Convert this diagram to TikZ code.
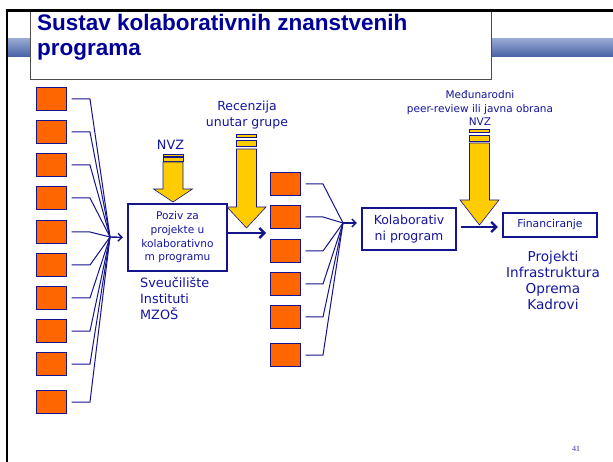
\documentclass[tikz,border=0pt]{standalone}
\usepackage{fontspec}
\setmainfont{DejaVu Sans}
\newfontfamily\titlefont{Liberation Sans}
\newfontfamily\pagefont{Liberation Serif}
\usetikzlibrary{arrows.meta}
\definecolor{titleblue}{RGB}{0,0,153}
\definecolor{txtblue}{RGB}{20,20,160}
\definecolor{lineblue}{RGB}{20,20,140}
\definecolor{boxorange}{RGB}{255,102,0}
\definecolor{arrowyellow}{RGB}{255,204,0}
\definecolor{barlight}{RGB}{150,168,210}
\definecolor{bardark}{RGB}{70,96,165}
\begin{document}
\begin{tikzpicture}[x=1pt, y=-1pt,
  obox/.style={draw=lineblue, fill=boxorange, line width=1pt, minimum width=30pt, minimum height=23pt, inner sep=0pt},
  tbox/.style={draw=lineblue, line width=2.2pt, fill=white, text=txtblue, align=center, inner sep=0pt},
  link/.style={draw=lineblue, line width=1pt, shorten <=5pt},
  conv/.style={draw=lineblue, line width=1.4pt, -{Straight Barb[length=4pt,width=8pt]}},
  flow/.style={draw=lineblue, line width=2.4pt, -{Straight Barb[length=5pt,width=10pt]}},
  lbl/.style={text=txtblue, align=center, inner sep=0pt},
  ttl/.style={anchor=base west, inner sep=0pt, text=titleblue, font=\titlefont\fontsize{22.5}{26}\bfseries\selectfont},
  yarrow/.style={draw=lineblue, line width=0.6pt, fill=arrowyellow}]
\useasboundingbox[fill=white] (0,0) rectangle (613,462);

% header
\shade[top color=barlight, bottom color=bardark] (7,39) rectangle (613,57);
\draw[gray!60!black, fill=white, line width=0.8pt] (30,10.5) rectangle (491,79);
\draw[line width=2.5pt] (7,462) -- (7,10.5) -- (613,10.5);
\node[ttl] (title1) at (37,31) {Sustav kolaborativnih znanstvenih};
\node[ttl] (title2) at (37,56) {programa};

% project boxes
\foreach \y [count=\i] in {99,132,165,198,232,265,298,331,364,402}
  \node[obox] (L\i) at (51,\y) {};
\foreach \y [count=\i] in {184,217,251,284,317,355}
  \node[obox] (M\i) at (285,\y) {};

% main boxes
\node[tbox, minimum width=99pt, minimum height=67pt, font=\fontsize{10.6}{13.7}\selectfont] (poziv) at (177.5,237.5) {Poziv za\\projekte u\\kolaborativno\\m programu};
\node[tbox, minimum width=94pt, minimum height=42pt, font=\fontsize{12.5}{15.5}\selectfont] (kolab) at (409,229) {Kolaborativ\\ni program};
\node[tbox, minimum width=94pt, minimum height=24pt, font=\fontsize{10.8}{13}\selectfont] (fin) at (550,225) {Financiranje};

% connectors
\coordinate (kL) at (90,0);
\coordinate (cL) at (110,237);
\coordinate (kM) at (323,0);
\coordinate (cM) at (343,223);
\coordinate (aM) at (266,233);
\foreach \i in {1,...,10}
  \draw[link] (L\i.east) -- (L\i.east -| kL) -- (cL);
\foreach \i in {1,...,6}
  \draw[link] (M\i.east) -- (M\i.east -| kM) -- (cM);
\draw[conv, shorten >=4pt] (cL) -- (poziv.west);
\draw[conv, shorten >=4pt] (cM) -- (kolab.west |- cM);
\draw[flow] ([yshift=4.5pt]poziv.east) -- (aM);
\draw[flow, shorten <=4pt, shorten >=4pt] ([yshift=2pt]kolab.east) -- ([yshift=-2pt]fin.west);

% yellow arrows
\foreach \cx/\sa/\sb/\sc/\hy/\py in {173/154/157.5/162/189/202, 246.5/134/140/149/207/228, 479.5/129/135/143/200/225} {
  \path[yarrow] (\cx-10,\sa) rectangle (\cx+10,{\sa+0.6*(\sb-\sa)});
  \path[yarrow] (\cx-10,\sb) rectangle (\cx+10,{\sb+0.75*(\sc-\sb)});
  \path[yarrow] (\cx-10,\sc) -- (\cx+10,\sc) -- (\cx+10,\hy) -- (\cx+19.5,\hy)
    -- (\cx,\py) -- (\cx-19.5,\hy) -- (\cx-10,\hy) -- cycle;
}

% labels
\node[lbl, font=\fontsize{12.8}{15}\selectfont] (nvz) at (170.5,145) {NVZ};
\node[lbl, font=\fontsize{12.5}{16}\selectfont] (rec) at (247,115) {Recenzija\\unutar grupe};
\node[lbl, font=\fontsize{10.5}{13.5}\selectfont] (peer) at (480,108.5) {Međunarodni\\peer-review ili javna obrana\\NVZ};
\node[lbl, align=left, anchor=west, font=\fontsize{12.8}{16}\selectfont] (inst) at (140,298) {Sveučilište\\Instituti\\MZOŠ};
\node[lbl, font=\fontsize{13.6}{16}\selectfont] (proj) at (553,280) {Projekti\\Infrastruktura\\Oprema\\Kadrovi};
\node[inner sep=0pt, text=txtblue!60, font=\pagefont\fontsize{8}{9}\bfseries\selectfont] (page) at (576,449) {41};
\end{tikzpicture}
\end{document}
